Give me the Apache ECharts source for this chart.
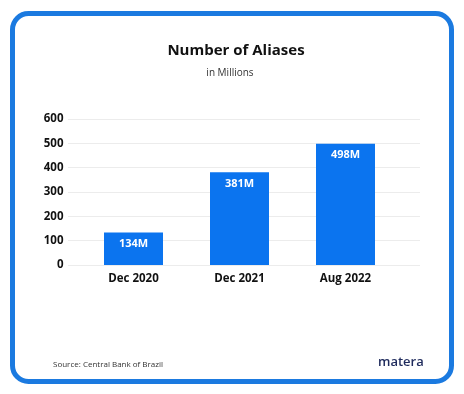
<!DOCTYPE html>
<html><head><meta charset="utf-8">
<script src="https://cdn.jsdelivr.net/npm/echarts@6/dist/echarts.min.js"></script>
<style>html,body{margin:0;padding:0;background:#fff}#c{width:464px;height:394px}</style>
</head><body><div id="c"></div>
<script>
const categories = ["Dec 2020", "Dec 2021", "Aug 2022"];
const values = [134, 381, 498];
const valueLabels = ["134M", "381M", "498M"];
const yTicks = [0, 100, 200, 300, 400, 500, 600];

const FONT = "Open Sans";
const chart = echarts.init(document.getElementById('c'));
chart.setOption({
  animation: false,
  backgroundColor: '#fff',
  title: [
    {text: 'Number of Aliases', left: 231, top: 38, textAlign: 'center',
     textStyle: {fontFamily: FONT, fontSize: 15, fontWeight: 'bold', color: '#111'}},
    {text: 'in Millions', left: 225, top: 63, textAlign: 'center',
     textStyle: {fontFamily: FONT, fontSize: 10, fontWeight: 'normal', color: '#333'}}
  ],
  grid: [
    {left: 80.5, right: 464 - 398.5, top: 119, bottom: 394 - 265, containLabel: false},
    {left: 68, right: 44, top: 119, bottom: 394 - 265, containLabel: false}
  ],
  xAxis: [
    {type: 'category', data: categories, gridIndex: 0,
     axisLine: {show: false}, axisTick: {show: false},
     axisLabel: {margin: 8, fontFamily: FONT, fontSize: 11.5, fontWeight: 'bold', color: '#111'}},
    {type: 'value', gridIndex: 1, show: false, min: 0, max: 1}
  ],
  yAxis: [
    {type: 'value', gridIndex: 0, min: 0, max: 600, interval: 100,
     axisLine: {show: false}, axisTick: {show: false}, splitLine: {show: false},
     axisLabel: {margin: 17, fontFamily: FONT, fontSize: 11.5, fontWeight: 'bold', color: '#111',
       formatter: v => yTicks.includes(v) ? String(v) : ''}},
    {type: 'value', gridIndex: 1, min: 0, max: 600, interval: 100,
     axisLine: {show: false}, axisTick: {show: false}, axisLabel: {show: false},
     splitLine: {show: true, lineStyle: {color: '#ececec', width: 1}}}
  ],
  series: [
    {type: 'bar', xAxisIndex: 0, yAxisIndex: 0, data: values, barWidth: 59,
     itemStyle: {color: '#0b74ef'},
     label: {show: true, position: 'insideTop', distance: 6, color: '#fff',
       fontFamily: FONT, fontSize: 11, fontWeight: 'bold',
       formatter: p => valueLabels[p.dataIndex]}}
  ],
  graphic: [
    {type: 'rect', shape: {x: 12.5, y: 13.5, width: 439, height: 368, r: 16},
     style: {fill: 'none', stroke: '#1b7ae0', lineWidth: 5}, z: 10},
    {type: 'text', left: 53, top: 361,
     style: {text: 'Source: Central Bank of Brazil', font: '8px "Open Sans"', fill: '#333'}},
    {type: 'text', left: 378, top: 356,
     style: {text: 'matera', font: '600 13px "Open Sans"', fill: '#1e2a5c'}}
  ]
});
</script></body></html>
